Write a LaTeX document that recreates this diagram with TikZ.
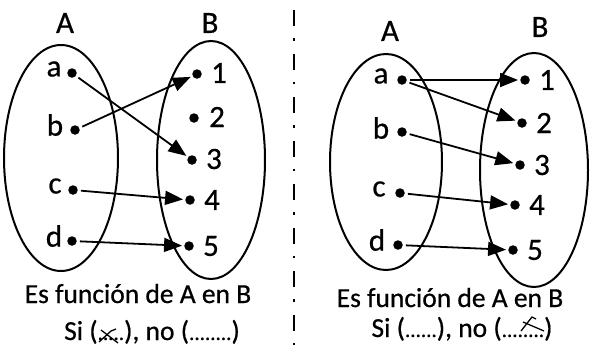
\documentclass[tikz,border=0pt]{standalone}
\usepackage{fontspec}
\setmainfont{Carlito}[FakeBold=0.6]
\usetikzlibrary{arrows.meta}
\newcommand{\dotrun}[1]{{\fontsize{21}{21}\selectfont #1}}
\begin{document}
\begin{tikzpicture}[x=1pt,y=-1pt,
  setline/.style={line width=2pt},
  pt/.style={circle,fill=black,inner sep=0pt,minimum size=9.5pt},
  lbl/.style={font=\fontsize{31}{34}\selectfont,inner sep=0pt},
  arr/.style={line width=1.8pt,-{Triangle[length=18pt,width=14pt]},shorten >=2pt,shorten <=3pt},
  captxt/.style={font=\fontsize{27.5}{30}\selectfont,inner sep=0pt,anchor=base},
  xmark/.style={line width=1.3pt},
  sepline/.style={line width=2.6pt,dash pattern=on 16pt off 12pt on 2.5pt off 13pt}
]
\useasboundingbox (0,0) rectangle (590,351);
% ---------- left panel ----------
\node[lbl] (LA) at (65,23) {A};
\node[lbl] (LB) at (210,23) {B};
\draw[setline] (61,158) ellipse [x radius=57, y radius=113];
\draw[setline] (211,160) ellipse [x radius=54, y radius=119];
\node[pt] (la) at (72,73) {};
\node[pt] (lb) at (75,130) {};
\node[pt] (lc) at (73,190) {};
\node[pt] (ld) at (72,241) {};
\node[lbl] at (54,69) {a};
\node[lbl] at (55,125) {b};
\node[lbl] at (55,186) {c};
\node[lbl] at (54,236) {d};
\node[pt] (l1) at (197,74) {};
\node[pt] (l2) at (194,118) {};
\node[pt] (l3) at (192,160) {};
\node[pt] (l4) at (190,200) {};
\node[pt] (l5) at (189,246) {};
\node[lbl] at (219,73) {1};
\node[lbl] at (217,117) {2};
\node[lbl] at (214,159) {3};
\node[lbl] at (212,200) {4};
\node[lbl] at (211,246) {5};
\draw[arr] (la) -- (l3);
\draw[arr] (lb) -- (l1);
\draw[arr] (lc) -- (l4);
\draw[arr] (ld) -- (l5);
\node[captxt] (lcap) at (138,303) {Es función de A en B};
\node[captxt] (lsi) at (152,340) {Si (\dotrun{.....}), no (\dotrun{........})};
\draw[xmark] (101,330) -- (118,343);
\draw[xmark] (99,342) -- (111,331) -- (116,329);
% ---------- separator ----------
\coordinate (sepT) at (294,10);
\coordinate (sepB) at (294,351);
\draw[sepline] (sepT) -- (sepB);
% ---------- right panel ----------
\node[lbl] (RA) at (390,31) {A};
\node[lbl] (RB) at (540,27) {B};
\draw[setline] (386,162) ellipse [x radius=56, y radius=108];
\draw[setline] (534,170) ellipse [x radius=54, y radius=117];
\node[pt] (ra) at (402,80) {};
\node[pt] (rb) at (402,132) {};
\node[pt] (rc) at (400,193) {};
\node[pt] (rd) at (398,245) {};
\node[lbl] at (381,76) {a};
\node[lbl] at (381,128) {b};
\node[lbl] at (379,189) {c};
\node[lbl] at (377,240) {d};
\node[pt] (r1) at (525,80) {};
\node[pt] (r2) at (522,123) {};
\node[pt] (r3) at (520,165) {};
\node[pt] (r4) at (515,205) {};
\node[pt] (r5) at (513,250) {};
\node[lbl] at (547,80) {1};
\node[lbl] at (544,123) {2};
\node[lbl] at (542,165) {3};
\node[lbl] at (537,205) {4};
\node[lbl] at (535,250) {5};
\draw[arr] (ra) -- (r1);
\draw[arr] (ra) -- (r2);
\draw[arr] (rb) -- (r3);
\draw[arr] (rc) -- (r4);
\draw[arr] (rd) -- (r5);
\node[captxt] (rcap) at (450,307) {Es función de A en B};
\node[captxt] (rsi) at (462,337) {Si (\dotrun{......}), no (\dotrun{........})};
\draw[xmark] (521,331) -- (532,317) -- (536,319);
\draw[xmark] (523,322) -- (544,331);
\end{tikzpicture}
\end{document}
